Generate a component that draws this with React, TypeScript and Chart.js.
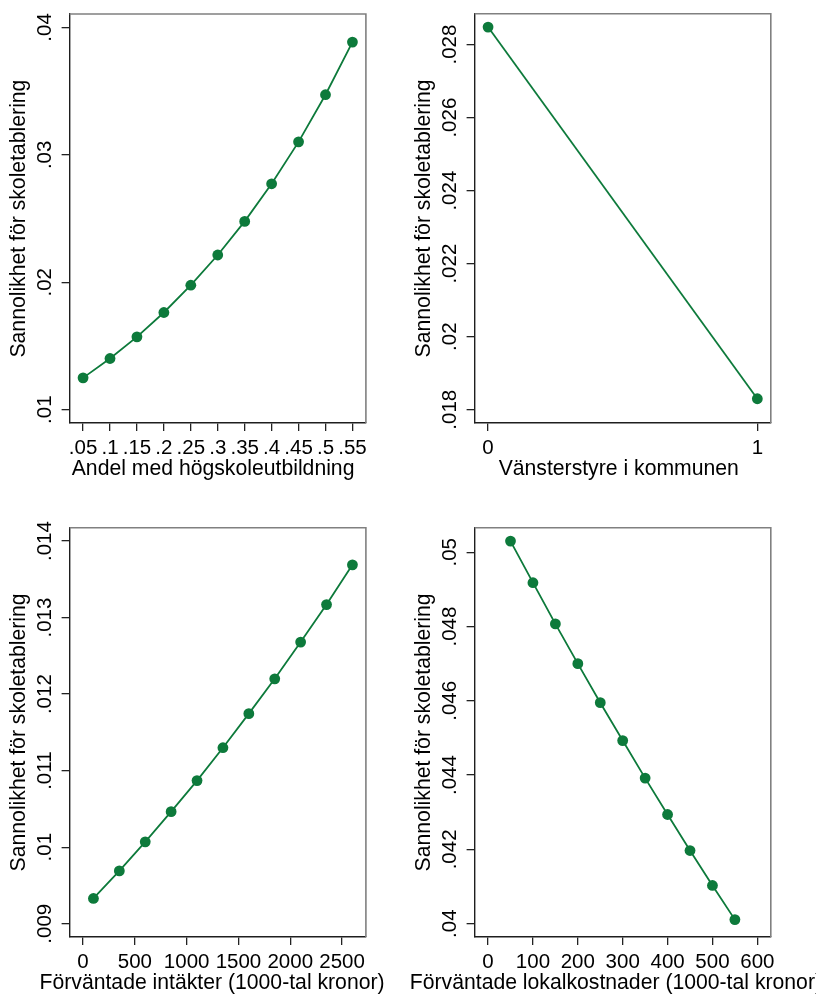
import React, { useEffect, useRef } from "react";
import { Chart, registerables } from "chart.js";

Chart.register(...registerables);

const FONT = "'Liberation Sans', Arial, Helvetica, sans-serif";
const GREEN = "#0d7a3b";
const TICK_SIZE = 20.5;
const TITLE_SIZE = 21.2;
const Y_TITLE = "Sannolikhet för skoletablering";

// Panel 1: Andel med högskoleutbildning
const shareX = [0.05, 0.1, 0.15, 0.2, 0.25, 0.3, 0.35, 0.4, 0.45, 0.5, 0.55];
const shareY = [0.0125, 0.01402, 0.01572, 0.01763, 0.01977, 0.02214, 0.02478, 0.02773, 0.03102, 0.03472, 0.03885];
const shareXTicks = [0.05, 0.1, 0.15, 0.2, 0.25, 0.3, 0.35, 0.4, 0.45, 0.5, 0.55];
const shareXLabels = [".05", ".1", ".15", ".2", ".25", ".3", ".35", ".4", ".45", ".5", ".55"];
const shareYTicks = [0.01, 0.02, 0.03, 0.04];
const shareYLabels = [".01", ".02", ".03", ".04"];

// Panel 2: Vänsterstyre i kommunen
const leftX = [0, 1];
const leftY = [0.02848, 0.0183];
const leftXTicks = [0, 1];
const leftXLabels = ["0", "1"];
const leftYTicks = [0.018, 0.02, 0.022, 0.024, 0.026, 0.028];
const leftYLabels = [".018", ".02", ".022", ".024", ".026", ".028"];

// Panel 3: Förväntade intäkter
const incomeX = [100, 350, 600, 850, 1100, 1350, 1600, 1850, 2100, 2350, 2600];
const incomeY = [0.00933, 0.00969, 0.01007, 0.010464, 0.01087, 0.0113, 0.011745, 0.0122, 0.01268, 0.01317, 0.01369];
const incomeXTicks = [0, 500, 1000, 1500, 2000, 2500];
const incomeXLabels = ["0", "500", "1000", "1500", "2000", "2500"];
const incomeYTicks = [0.009, 0.01, 0.011, 0.012, 0.013, 0.014];
const incomeYLabels = [".009", ".01", ".011", ".012", ".013", ".014"];

// Panel 4: Förväntade lokalkostnader
const costX = [50, 100, 150, 200, 250, 300, 350, 400, 450, 500, 550];
const costY = [0.0503, 0.04918, 0.04807, 0.047, 0.04595, 0.04493, 0.04392, 0.04294, 0.04197, 0.04103, 0.04011];
const costXTicks = [0, 100, 200, 300, 400, 500, 600];
const costXLabels = ["0", "100", "200", "300", "400", "500", "600"];
const costYTicks = [0.04, 0.042, 0.044, 0.046, 0.048, 0.05];
const costYLabels = [".04", ".042", ".044", ".046", ".048", ".05"];

type Rect = { left: number; top: number; right: number; bottom: number };

type PanelProps = {
  canvas: { left: number; top: number; width: number; height: number };
  box: Rect;
  xs: number[];
  ys: number[];
  xTicks: number[];
  xLabels: string[];
  yTicks: number[];
  yLabels: string[];
  xTitle: string;
};

function measure(text: string, size: number): number {
  const c = document.createElement("canvas").getContext("2d")!;
  c.font = `normal ${size}px ${FONT}`;
  return c.measureText(text).width;
}

function padRange(vals: number[], frac: number): [number, number] {
  const lo = Math.min(...vals);
  const hi = Math.max(...vals);
  const p = (hi - lo) * frac;
  return [lo - p, hi + p];
}

const TICK_LEN = 8;

function Panel(props: PanelProps) {
  const ref = useRef<HTMLCanvasElement | null>(null);
  useEffect(() => {
    const { canvas: cv, box, xs, ys, xTicks, xLabels, yTicks, yLabels, xTitle } = props;
    const [xMin, xMax] = padRange([...xs, ...xTicks], 0.05);
    const [yMin, yMax] = padRange([...ys, ...yTicks], 0.035);
    const tickLH = TICK_SIZE * 1.2;
    const titleLH = TITLE_SIZE * 1.2;
    const widest = Math.max(...yLabels.map((l) => measure(l, TICK_SIZE)));
    const yTickPad = 24 - TICK_LEN - widest / 2;
    const xTickPad = 25 - TICK_LEN - tickLH / 2;
    const xTitlePadBottom = cv.top + cv.height - (box.bottom + 45.6) - titleLH / 2;
    const yTitlePadTop = box.left - 50.2 - cv.left - titleLH / 2;
    const titleShift = -0.0165 * measure(xTitle, TITLE_SIZE);

    const frame = {
      id: "frame",
      beforeDraw(chart: any) {
        const s: any = chart.scales.x;
        if (s && !s._patched) {
          const orig = s.drawTitle.bind(s);
          s.drawTitle = function () {
            const l = s.left;
            const r = s.right;
            // widen the title's room so the text is not squeezed, and
            // move its centre slightly to the left as in the original
            s.left = l - 400 + titleShift;
            s.right = r + 400 + titleShift;
            orig();
            s.left = l;
            s.right = r;
          };
          s._patched = true;
        }
      },
      afterDraw(chart: any) {
        const { ctx, chartArea } = chart;
        const { left, top, right, bottom } = chartArea;
        ctx.save();
        ctx.strokeStyle = "#808080";
        ctx.lineWidth = 1.6;
        ctx.beginPath();
        ctx.moveTo(left, top);
        ctx.lineTo(right, top);
        ctx.lineTo(right, bottom);
        ctx.stroke();
        ctx.restore();
      },
    };

    const tickFont = { family: FONT, size: TICK_SIZE, lineHeight: 1.2 };
    const titleFont = { family: FONT, size: TITLE_SIZE, lineHeight: 1.2 };
    const gridOpts = {
      display: true,
      drawOnChartArea: false,
      drawTicks: true,
      tickLength: TICK_LEN,
      tickWidth: 1.3,
      tickColor: "#222",
      color: "#222",
      lineWidth: 1.3,
    };
    const borderOpts = { display: true, color: "#1e1e1e", width: 1.4 };

    const chart = new Chart(ref.current as HTMLCanvasElement, {
      type: "line",
      data: {
        datasets: [
          {
            data: xs.map((x, i) => ({ x, y: ys[i] })),
            borderColor: GREEN,
            backgroundColor: GREEN,
            pointBackgroundColor: GREEN,
            pointBorderColor: GREEN,
            pointBorderWidth: 0,
            pointRadius: 5.4,
            borderWidth: 1.8,
            tension: 0,
            fill: false,
          },
        ],
      },
      options: {
        animation: false,
        responsive: false,
        maintainAspectRatio: false,
        devicePixelRatio: 1,
        layout: {
          padding: {
            left: 0,
            top: box.top - cv.top,
            right: cv.left + cv.width - box.right,
            bottom: 0,
          },
        },
        plugins: {
          legend: { display: false },
          tooltip: { enabled: false },
          title: { display: false },
        },
        scales: {
          x: {
            type: "linear",
            bounds: "data",
            min: xMin,
            max: xMax,
            afterBuildTicks: (s: any) => {
              s.ticks = xTicks.map((v) => ({ value: v }));
            },
            afterFit: (s: any) => {
              s.height = cv.top + cv.height - box.bottom;
            },
            ticks: {
              autoSkip: false,
              minRotation: 0,
              maxRotation: 0,
              padding: xTickPad,
              color: "#000",
              font: tickFont,
              callback: (_v: any, i: number) => xLabels[i],
            },
            grid: gridOpts,
            border: borderOpts,
            title: {
              display: true,
              text: xTitle,
              color: "#000",
              font: titleFont,
              padding: { top: 0, bottom: xTitlePadBottom },
            },
          },
          y: {
            type: "linear",
            bounds: "data",
            min: yMin,
            max: yMax,
            afterBuildTicks: (s: any) => {
              s.ticks = yTicks.map((v) => ({ value: v }));
            },
            afterFit: (s: any) => {
              s.width = box.left - cv.left;
            },
            ticks: {
              autoSkip: false,
              minRotation: 90,
              maxRotation: 90,
              crossAlign: "center",
              padding: yTickPad,
              color: "#000",
              font: tickFont,
              callback: (_v: any, i: number) => yLabels[i],
            },
            grid: gridOpts,
            border: borderOpts,
            title: {
              display: true,
              text: Y_TITLE,
              color: "#000",
              font: titleFont,
              padding: { top: yTitlePadTop, bottom: 0 },
            },
          },
        },
      } as any,
      plugins: [frame],
    });
    return () => chart.destroy();
  }, []);

  const { canvas: cv } = props;
  return (
    <canvas
      ref={ref}
      width={cv.width}
      height={cv.height}
      style={{
        position: "absolute",
        left: cv.left,
        top: cv.top,
        width: cv.width,
        height: cv.height,
      }}
    />
  );
}

const TOP_BOX = { top: 13.7, bottom: 423.1 };
const BOTTOM_BOX = { top: 527.7, bottom: 937.1 };
const LEFT_BOX = { left: 69.6, right: 365.9 };
const RIGHT_BOX = { left: 474.6, right: 770.8 };

export default function App() {
  return (
    <div
      style={{
        position: "absolute",
        left: 0,
        top: 0,
        width: 816,
        height: 994,
        background: "#fff",
        overflow: "hidden",
      }}
    >
      <Panel
        canvas={{ left: 0, top: 0, width: 400, height: 497 }}
        box={{ ...LEFT_BOX, ...TOP_BOX }}
        xs={shareX}
        ys={shareY}
        xTicks={shareXTicks}
        xLabels={shareXLabels}
        yTicks={shareYTicks}
        yLabels={shareYLabels}
        xTitle="Andel med högskoleutbildning"
      />
      <Panel
        canvas={{ left: 400, top: 0, width: 416, height: 497 }}
        box={{ ...RIGHT_BOX, ...TOP_BOX }}
        xs={leftX}
        ys={leftY}
        xTicks={leftXTicks}
        xLabels={leftXLabels}
        yTicks={leftYTicks}
        yLabels={leftYLabels}
        xTitle="Vänsterstyre i kommunen"
      />
      <Panel
        canvas={{ left: 0, top: 497, width: 400, height: 497 }}
        box={{ ...LEFT_BOX, ...BOTTOM_BOX }}
        xs={incomeX}
        ys={incomeY}
        xTicks={incomeXTicks}
        xLabels={incomeXLabels}
        yTicks={incomeYTicks}
        yLabels={incomeYLabels}
        xTitle="Förväntade intäkter (1000-tal kronor)"
      />
      <Panel
        canvas={{ left: 400, top: 497, width: 416, height: 497 }}
        box={{ ...RIGHT_BOX, ...BOTTOM_BOX }}
        xs={costX}
        ys={costY}
        xTicks={costXTicks}
        xLabels={costXLabels}
        yTicks={costYTicks}
        yLabels={costYLabels}
        xTitle="Förväntade lokalkostnader (1000-tal kronor)"
      />
    </div>
  );
}
